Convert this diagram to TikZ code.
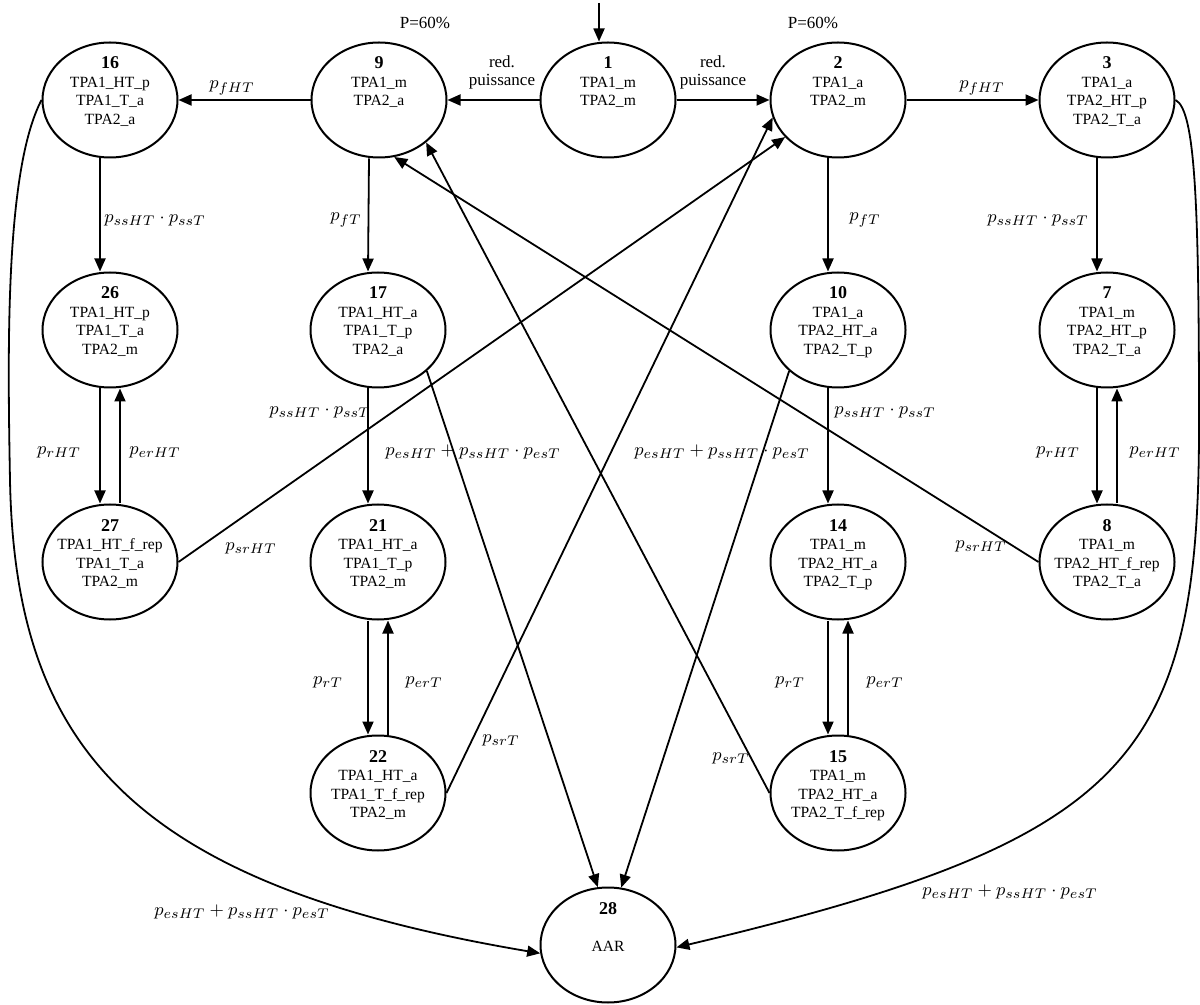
\documentclass[tikz,border=0pt]{standalone}
\usepackage{fontspec}
\setmainfont{Liberation Serif}
\usetikzlibrary{arrows.meta,shapes.geometric}

% state text: bold number on top, then the component states
\newcommand{\etat}[4]{\smash{\makebox[0pt]{\raisebox{15.5pt}{\begin{tabular}[t]{@{}c@{}}{\fontsize{9}{9.25}\selectfont\bfseries #1}\\#2\\#3\\#4\end{tabular}}}}}

\begin{document}
\begin{tikzpicture}[x=0.5pt,y=-0.5pt,font=\fontsize{7.8}{9.25}\selectfont,
    etat/.style={draw,ellipse,line width=1pt,minimum width=67.5pt,
                 minimum height=57.5pt,inner sep=0pt},
    fl/.style={line width=0.9pt,-{Triangle[length=6.5pt,width=5.5pt]}},
    proba/.style={font=\fontsize{9.5}{11}\selectfont,inner sep=1pt},
    note/.style={font=\fontsize{8.5}{9}\selectfont,align=center,inner sep=0pt}]
  \useasboundingbox (0,0) rectangle (1200,1005);

  % first row
  \node[etat] (n16) at (110,100) {\etat{16}{TPA1\_HT\_p}{TPA1\_T\_a}{TPA2\_a}};
  \node[etat] (n9) at (379,100) {\etat{9}{TPA1\_m}{TPA2\_a}{}};
  \node[etat] (n1) at (608,100) {\etat{1}{TPA1\_m}{TPA2\_m}{}};
  \node[etat] (n2) at (838,100) {\etat{2}{TPA1\_a}{TPA2\_m}{}};
  \node[etat] (n3) at (1107,100) {\etat{3}{TPA1\_a}{TPA2\_HT\_p}{TPA2\_T\_a}};
  % second row
  \node[etat] (n26) at (110,330) {\etat{26}{TPA1\_HT\_p}{TPA1\_T\_a}{TPA2\_m}};
  \node[etat] (n17) at (378,330) {\etat{17}{TPA1\_HT\_a}{TPA1\_T\_p}{TPA2\_a}};
  \node[etat] (n10) at (838,330) {\etat{10}{TPA1\_a}{TPA2\_HT\_a}{TPA2\_T\_p}};
  \node[etat] (n7) at (1107,330) {\etat{7}{TPA1\_m}{TPA2\_HT\_p}{TPA2\_T\_a}};
  % third row
  \node[etat] (n27) at (110,562) {\etat{27}{TPA1\_HT\_f\_rep}{TPA1\_T\_a}{TPA2\_m}};
  \node[etat] (n21) at (378,562) {\etat{21}{TPA1\_HT\_a}{TPA1\_T\_p}{TPA2\_m}};
  \node[etat] (n14) at (838,562) {\etat{14}{TPA1\_m}{TPA2\_HT\_a}{TPA2\_T\_p}};
  \node[etat] (n8) at (1107,562) {\etat{8}{TPA1\_m}{TPA2\_HT\_f\_rep}{TPA2\_T\_a}};
  % fourth row and absorbing state
  \node[etat] (n22) at (378,793) {\etat{22}{TPA1\_HT\_a}{TPA1\_T\_f\_rep}{TPA2\_m}};
  \node[etat] (n15) at (838,793) {\etat{15}{TPA1\_m}{TPA2\_HT\_a}{TPA2\_T\_f\_rep}};
  \node[etat] (n28) at (608,945) {\etat{28}{}{AAR}{}};

  % initial state
  \coordinate (init) at (599,3);
  \draw[fl] (init) -- ([xshift=-4.5pt]n1.north);

  % horizontal transitions
  \draw[fl] (n1.west) -- (n9.east);
  \draw[fl] (n9.west) -- (n16.east);
  \draw[fl] (n1.east) -- (n2.west);
  \draw[fl] (n2.east) -- (n3.west);

  % vertical transitions
  \foreach \a/\b in {n16/n26,n9/n17,n2/n10,n3/n7,n17/n21,n10/n14,n26/n27,n21/n22,n14/n15,n7/n8}
    \draw[fl] ([xshift=-5pt]\a.south) -- ([xshift=-5pt]\b.north);
  \foreach \a/\b in {n27/n26,n22/n21,n15/n14,n8/n7}
    \draw[fl] ([xshift=5pt]\a.north) -- ([xshift=5pt]\b.south);

  % repairs back to the reduced states
  \draw[fl] (n27.east) -- (n2);
  \draw[fl] (n22.east) -- (n2.195);
  \draw[fl] (n8.west) -- (n9.285);
  \draw[fl] (n15.west) -- (n9.318);

  % failures to AAR
  \draw[fl] (n17.320) -- (n28.100);
  \draw[fl] (n10.220) -- (n28.77);
  \draw[fl] (n16.west) .. controls (5,170) and (7.6,350) .. (10,480)
                       .. controls (15,750) and (135,885) .. (n28.187);
  \draw[fl] (n3.east) .. controls (1195,110) and (1199,200) .. (1199,420)
                      .. controls (1200,760) and (1130,840) .. (n28.358);

  % labels
  \node[note] (p60g) at (425,23) {P=60\%};
  \node[note] (p60d) at (813,23) {P=60\%};
  \node[note] (redg) at (502,72) {red.\\puissance};
  \node[note] (redd) at (713,72) {red.\\puissance};
  \node[proba] (lfHTg) at (232,88) {$p_{fHT}$};
  \node[proba] (lfHTd) at (982,88) {$p_{fHT}$};
  \node[proba] (lss16) at (155,220) {$p_{ssHT}\cdot p_{ssT}$};
  \node[proba] (lss3) at (1038,220) {$p_{ssHT}\cdot p_{ssT}$};
  \node[proba] (lfT9) at (346,220) {$p_{fT}$};
  \node[proba] (lfT2) at (865,220) {$p_{fT}$};
  \node[proba] (lss17) at (320,412) {$p_{ssHT}\cdot p_{ssT}$};
  \node[proba] (lss10) at (885,412) {$p_{ssHT}\cdot p_{ssT}$};
  \node[proba] (les17) at (473,452) {$p_{esHT}+p_{ssHT}\cdot p_{esT}$};
  \node[proba] (les10) at (722,452) {$p_{esHT}+p_{ssHT}\cdot p_{esT}$};
  \node[proba] (lrHTg) at (59,452) {$p_{rHT}$};
  \node[proba] (lerHTg) at (155,452) {$p_{erHT}$};
  \node[proba] (lrHTd) at (1058,452) {$p_{rHT}$};
  \node[proba] (lerHTd) at (1155,452) {$p_{erHT}$};
  \node[proba] (lsrHTg) at (251,548) {$p_{srHT}$};
  \node[proba] (lsrHTd) at (981,546) {$p_{srHT}$};
  \node[proba] (lrTg) at (328,682) {$p_{rT}$};
  \node[proba] (lerTg) at (424,682) {$p_{erT}$};
  \node[proba] (lrTd) at (790,682) {$p_{rT}$};
  \node[proba] (lerTd) at (885,682) {$p_{erT}$};
  \node[proba] (lsrTg) at (501,740) {$p_{srT}$};
  \node[proba] (lsrTd) at (731,758) {$p_{srT}$};
  \node[proba] (les16) at (242,912) {$p_{esHT}+p_{ssHT}\cdot p_{esT}$};
  \node[proba] (les3) at (1010,892) {$p_{esHT}+p_{ssHT}\cdot p_{esT}$};
\end{tikzpicture}
\end{document}
